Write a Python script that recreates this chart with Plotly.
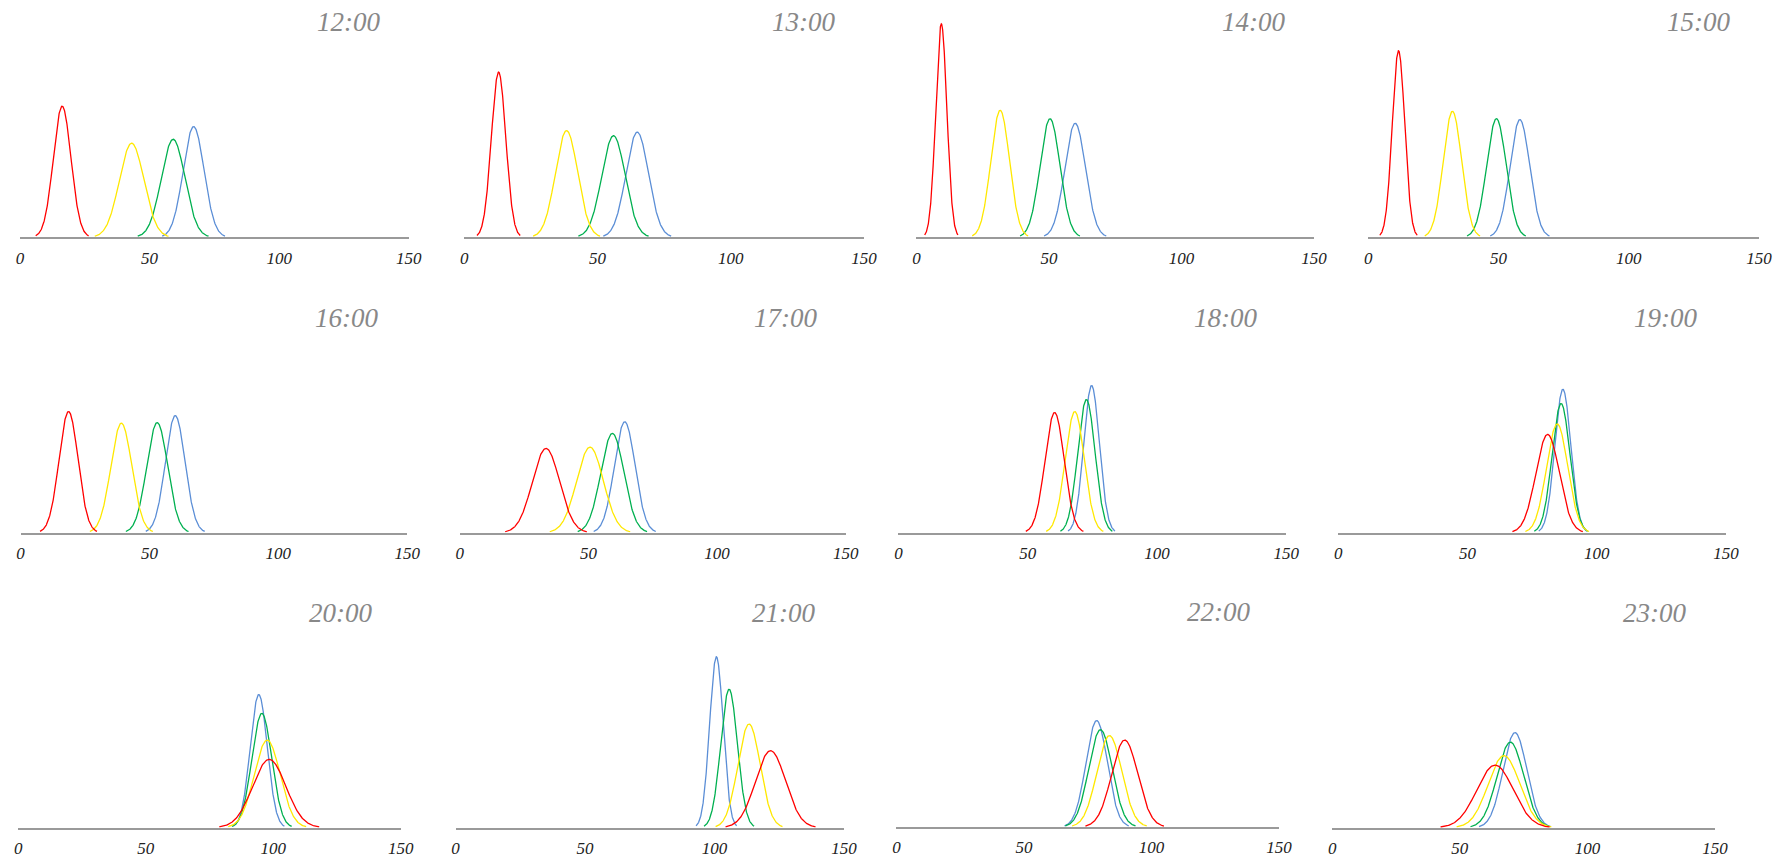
"""Hourly distribution small multiples — 12 panels of four normal curves."""

import numpy as np
import plotly.graph_objects as go

W, H = 1787, 860

hours = ["12:00", "13:00", "14:00", "15:00", "16:00", "17:00",
         "18:00", "19:00", "20:00", "21:00", "22:00", "23:00"]

# mean / standard deviation of each series per hour
red_mean = [16.3, 12.9, 9.4, 11.6, 18.6, 33.5, 60.4, 81.0, 98.4, 121.6, 89.5, 63.8]
red_sd = [3.40, 2.70, 2.09, 2.39, 3.68, 5.29, 3.71, 4.54, 6.53, 5.79, 5.13, 7.12]
yellow_mean = [43.1, 38.4, 31.6, 32.3, 39.1, 50.6, 68.2, 84.7, 97.6, 113.3, 83.5, 67.3]
yellow_sd = [4.74, 4.18, 3.51, 3.54, 4.07, 5.21, 3.68, 4.10, 5.09, 4.30, 4.88, 6.19]
green_mean = [59.1, 56.0, 50.4, 49.2, 53.0, 59.3, 72.7, 86.2, 95.5, 105.6, 80.0, 69.8]
green_sd = [4.55, 4.39, 3.76, 3.76, 4.05, 4.49, 3.35, 3.45, 3.90, 3.22, 4.58, 5.21]
blue_mean = [67.0, 64.9, 59.9, 58.2, 60.0, 64.1, 74.7, 86.9, 94.3, 100.7, 78.5, 71.6]
blue_sd = [4.03, 4.24, 3.91, 3.79, 3.81, 4.02, 3.03, 3.11, 3.35, 2.61, 4.19, 4.69]

x_ticks = [0, 50, 100, 150]

series = [
    ("blue", blue_mean, blue_sd, "#5b8ed6"),
    ("green", green_mean, green_sd, "#00b050"),
    ("yellow", yellow_mean, yellow_sd, "#ffe800"),
    ("red", red_mean, red_sd, "#ff0000"),
]

# panel placement in pixels: (x_start, x_end, baseline)
_PANELS = [
    (18.3, 407.3, 237.3), (462.7, 862.7, 237.3), (915.0, 1312.7, 237.3), (1367.0, 1757.7, 237.3),
    (19.0, 405.7, 532.7), (458.3, 844.3, 532.7), (897.0, 1285.0, 532.7), (1337.0, 1724.7, 532.7),
    (16.7, 399.3, 827.7), (454.0, 842.7, 827.7), (895.0, 1277.7, 827.0), (1331.0, 1713.7, 827.7),
]
_YMAX = 0.2
_PX_PER_DENSITY = 1118.0
_SERIF = "Liberation Serif"
# the page ends up drawn about 1% narrower than the window; undo that
_XSCALE, _XSHIFT = 0.9907, 2.4


def _px(x):
    return min(max((x - _XSHIFT) / (_XSCALE * W), 0.0), 1.0)


fig = go.Figure()
layout = {}
annotations = []

for i, hour in enumerate(hours):
    n = "" if i == 0 else str(i + 1)
    x0, x1, base = _PANELS[i]
    top = base - _YMAX * _PX_PER_DENSITY

    for name, means, sds, color in series:
        mu, sd = means[i], sds[i]
        xs = np.linspace(mu - 3 * sd, mu + 3 * sd, 241)
        ys = np.exp(-0.5 * ((xs - mu) / sd) ** 2) / (sd * np.sqrt(2 * np.pi))
        fig.add_trace(go.Scatter(
            x=xs, y=ys, mode="lines", name=name,
            line={"color": color, "width": 1.3},
            xaxis=f"x{n}", yaxis=f"y{n}",
            hoverinfo="skip",
        ))

    layout[f"xaxis{n}"] = {
        "domain": [_px(x0), _px(x1)],
        "anchor": f"y{n}",
        "range": [0, 150],
        "tickvals": x_ticks,
        "ticks": "",
        "ticklabelstandoff": 4,
        "tickfont": {"family": _SERIF, "size": 17, "color": "#222", "style": "italic"},
        "showgrid": False,
        "zeroline": False,
        "showline": True,
        "linecolor": "#9a9a9a",
        "linewidth": 1.6,
    }
    layout[f"yaxis{n}"] = {
        "domain": [1 - base / H, 1 - top / H],
        "anchor": f"x{n}",
        "range": [0, _YMAX],
        "visible": False,
    }
    annotations.append({
        "text": hour,
        "xref": "paper", "yref": "paper",
        "x": _px(x1 - 27), "y": 1 - (base - 215) / H,
        "xanchor": "right", "yanchor": "middle",
        "showarrow": False,
        "font": {"family": _SERIF, "size": 27, "color": "#888", "style": "italic"},
    })

fig.update_layout(
    width=W, height=H,
    autosize=False,
    margin={"l": 0, "r": 0, "t": 0, "b": 0},
    paper_bgcolor="white", plot_bgcolor="white",
    showlegend=False,
    annotations=annotations,
    **layout,
)

fig.write_html(
    "out.html",
    config={"responsive": False, "displayModeBar": False},
    post_script=(
        "document.body.style.margin='0';"
        "document.body.style.overflow='hidden';"
    ),
)
